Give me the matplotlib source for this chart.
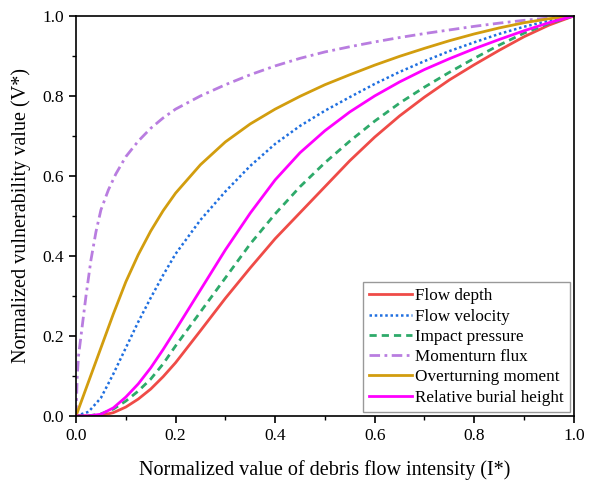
import numpy as np
from matplotlib import pyplot as plt
from matplotlib.ticker import MultipleLocator

plt.rcParams["font.family"] = ["Liberation Serif", "DejaVu Serif"]

# ===curves (normalized intensity -> vulnerability)
x_grid = [0.0, 0.025, 0.05, 0.075, 0.1, 0.125, 0.15, 0.175, 0.2,
          0.25, 0.3, 0.35, 0.4, 0.45, 0.5, 0.55, 0.6, 0.65, 0.7,
          0.75, 0.8, 0.85, 0.9, 0.95, 1.0]

flow_depth = [0.0, 0.0, 0.001, 0.008, 0.022, 0.042, 0.067, 0.098, 0.133,
              0.213, 0.294, 0.37, 0.443, 0.508, 0.573, 0.638, 0.697, 0.75, 0.797,
              0.84, 0.878, 0.914, 0.948, 0.977, 1.0]
flow_velocity = [0.0, 0.01, 0.045, 0.105, 0.17, 0.235, 0.295, 0.352, 0.405,
                 0.49, 0.561, 0.625, 0.68, 0.725, 0.763, 0.797, 0.83, 0.86, 0.887,
                 0.912, 0.934, 0.955, 0.973, 0.988, 1.0]
impact_pressure = [0.0, 0.0, 0.005, 0.017, 0.037, 0.062, 0.092, 0.13, 0.175,
                   0.26, 0.345, 0.43, 0.505, 0.573, 0.633, 0.687, 0.737, 0.782, 0.822,
                   0.859, 0.894, 0.927, 0.957, 0.981, 1.0]
overturning_moment = [0.0, 0.085, 0.17, 0.255, 0.335, 0.403, 0.462, 0.513, 0.557,
                      0.628, 0.685, 0.73, 0.767, 0.799, 0.828, 0.853, 0.877, 0.899, 0.919,
                      0.938, 0.955, 0.97, 0.983, 0.993, 1.0]
burial_height = [0.0, 0.0, 0.004, 0.02, 0.047, 0.08, 0.12, 0.166, 0.215,
                 0.315, 0.415, 0.507, 0.59, 0.658, 0.713, 0.76, 0.8, 0.835, 0.866,
                 0.893, 0.918, 0.941, 0.963, 0.983, 1.0]

x_flux = [0.0, 0.0025, 0.005, 0.01, 0.02, 0.03, 0.04, 0.05, 0.065, 0.08, 0.1,
          0.125, 0.15, 0.175, 0.2, 0.25, 0.3, 0.35, 0.4, 0.45, 0.5, 0.55, 0.6,
          0.65, 0.7, 0.75, 0.8, 0.85, 0.9, 0.95, 1.0]
momentum_flux = [0.0, 0.1, 0.15, 0.2, 0.3, 0.39, 0.46, 0.515, 0.565, 0.605, 0.648,
                 0.687, 0.719, 0.745, 0.767, 0.8, 0.828, 0.853, 0.875, 0.894, 0.91, 0.923, 0.935,
                 0.946, 0.956, 0.965, 0.974, 0.982, 0.989, 0.995, 1.0]


def main():
    fig = plt.figure(figsize=(5.94, 4.83), dpi=100)
    ax = fig.add_axes([0.128, 0.139, 0.838, 0.828])

    lw = 2.0
    ax.plot(x_grid, flow_depth, color="#EF4B47", lw=lw, label="Flow depth")
    ax.plot(x_grid, flow_velocity, color="#1F6FE0", lw=1.8, dashes=(1, 1.1),
            label="Flow velocity")
    ax.plot(x_grid, impact_pressure, color="#2EAA6A", lw=lw, dashes=(2.6, 1.8),
            label="Impact pressure")
    ax.plot(x_flux, momentum_flux, color="#B97DE0", lw=lw, dashes=(3.8, 1.6, 1, 1.6),
            label="Momenturn flux")
    ax.plot(x_grid, overturning_moment, color="#D29D0E", lw=lw, label="Overturning moment")
    ax.plot(x_grid, burial_height, color="#FF00FF", lw=lw, label="Relative burial height")

    ax.set_xlim(0, 1)
    ax.set_ylim(0, 1)
    ax.xaxis.set_major_locator(MultipleLocator(0.2))
    ax.yaxis.set_major_locator(MultipleLocator(0.2))
    ax.xaxis.set_minor_locator(MultipleLocator(0.1))
    ax.yaxis.set_minor_locator(MultipleLocator(0.1))
    ax.tick_params(which="major", direction="out", length=5, width=1.2, labelsize=12.5)
    ax.tick_params(which="minor", direction="out", length=3, width=1.0)
    for s in ax.spines.values():
        s.set_linewidth(1.2)

    ax.set_xlabel("Normalized value of debris flow intensity (I*)", fontsize=14.5, labelpad=12)
    ax.set_ylabel("Normalized vulnerability value (V*)", fontsize=14.5, labelpad=8)

    leg = ax.legend(loc="lower right", fontsize=12.3, fancybox=False, edgecolor="#999999",
                    handlelength=2.5, handletextpad=0.2, borderpad=0.35, labelspacing=0.25,
                    borderaxespad=0.25, framealpha=1)
    leg.get_frame().set_linewidth(1.0)

    fig.savefig("out.png", dpi=100)


if __name__ == "__main__":
    main()
